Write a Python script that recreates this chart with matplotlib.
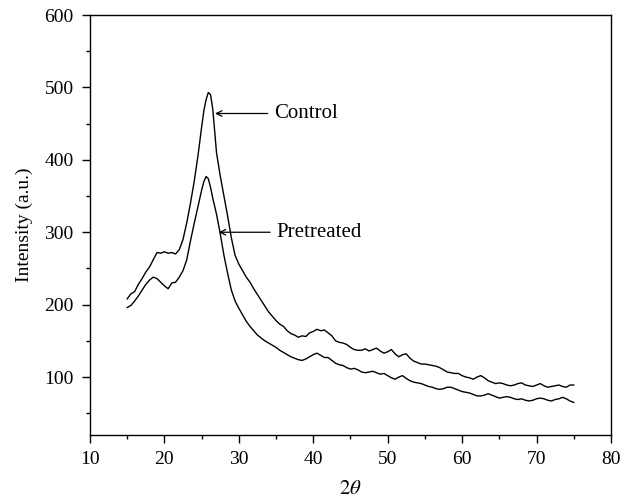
import matplotlib
matplotlib.use('Agg')
import matplotlib.pyplot as plt
from matplotlib.ticker import MultipleLocator

plt.rcParams['font.family'] = ['Liberation Serif', 'DejaVu Serif']
plt.rcParams['mathtext.fontset'] = 'stix'

# Control pattern (2theta, intensity)
control_x = [15.0, 15.5, 16.0, 16.5, 17.0, 17.5, 18.0, 18.5, 19.0, 19.5,
             20.0, 20.5, 21.0, 21.5, 22.0, 22.5, 23.0, 23.5, 24.0, 24.5,
             25.0, 25.3, 25.6, 25.9, 26.2, 26.5, 27.0, 27.5, 28.0, 28.5,
             29.0, 29.5, 30.0, 30.5, 31.0, 31.5, 32.0, 32.5, 33.0, 33.5,
             34.0, 34.5, 35.0, 35.5, 36.0, 36.5, 37.0, 37.5, 38.0, 38.5,
             39.0, 39.5, 40.0, 40.5, 41.0, 41.5, 42.0, 42.5, 43.0, 43.5,
             44.0, 44.5, 45.0, 45.5, 46.0, 46.5, 47.0, 47.5, 48.0, 48.5,
             49.0, 49.5, 50.0, 50.5, 51.0, 51.5, 52.0, 52.5, 53.0, 53.5,
             54.0, 54.5, 55.0, 55.5, 56.0, 56.5, 57.0, 57.5, 58.0, 58.5,
             59.0, 59.5, 60.0, 60.5, 61.0, 61.5, 62.0, 62.5, 63.0, 63.5,
             64.0, 64.5, 65.0, 65.5, 66.0, 66.5, 67.0, 67.5, 68.0, 68.5,
             69.0, 69.5, 70.0, 70.5, 71.0, 71.5, 72.0, 72.5, 73.0, 73.5,
             74.0, 74.5, 75.0]
control_y = [208, 215, 218, 228, 236, 245, 252, 262, 272, 271,
             273, 271, 272, 270, 276, 290, 313, 340, 370, 405,
             445, 468, 483, 493, 490, 470, 410, 378, 350, 322,
             292, 268, 256, 247, 238, 231, 222, 214, 206, 198,
             190, 184, 178, 173, 170, 164, 160, 158, 155, 157,
             156, 161, 163, 166, 164, 165, 161, 157, 150, 148,
             147, 145, 141, 138, 137, 137, 139, 136, 138, 140,
             136, 133, 135, 138, 132, 128, 131, 132, 126, 122,
             120, 118, 118, 117, 116, 115, 113, 110, 107, 106,
             105, 105, 102, 100, 99, 97, 100, 102, 99, 95,
             93, 91, 92, 91, 89, 88, 89, 91, 92, 89,
             88, 87, 89, 91, 88, 86, 87, 88, 89, 87,
             86, 89, 89]

# Pretreated pattern (same 2theta grid)
pretreated_x = control_x
pretreated_y = [196, 199, 205, 212, 220, 228, 234, 238, 236, 231,
                226, 222, 230, 231, 238, 247, 262, 288, 312, 335,
                358, 370, 377, 374, 362, 347, 325, 298, 268, 243,
                220, 205, 195, 186, 177, 170, 164, 158, 154, 150,
                147, 144, 141, 137, 134, 131, 128, 126, 124, 123,
                125, 128, 131, 133, 130, 127, 127, 123, 119, 117,
                116, 113, 111, 112, 110, 107, 106, 107, 108, 106,
                104, 105, 102, 99, 97, 100, 102, 98, 95, 93,
                92, 91, 89, 87, 86, 84, 83, 84, 86, 86,
                84, 82, 80, 79, 78, 76, 74, 74, 75, 77,
                75, 73, 71, 72, 73, 72, 70, 69, 70, 68,
                67, 68, 70, 71, 70, 68, 67, 69, 70, 72,
                70, 67, 65]

fig = plt.figure(figsize=(6.24, 5.04), dpi=100)
ax = fig.add_axes([0.1442, 0.1369, 0.8349, 0.8333])

ax.plot(control_x, control_y, color='black', lw=1.0)
ax.plot(pretreated_x, pretreated_y, color='black', lw=1.0)

arrow = dict(arrowstyle='->', color='black', lw=0.9, shrinkA=0, shrinkB=0)
ax.annotate('', xy=(26.8, 464), xytext=(33.9, 464), arrowprops=arrow)
ax.text(34.8, 464, 'Control', fontsize=15, va='center', ha='left')
ax.annotate('', xy=(27.3, 300), xytext=(34.2, 300), arrowprops=arrow)
ax.text(35.1, 300, 'Pretreated', fontsize=15, va='center', ha='left')

ax.set_xlim(10, 80)
ax.set_ylim(20, 600)
ax.xaxis.set_major_locator(MultipleLocator(10))
ax.xaxis.set_minor_locator(MultipleLocator(5))
ax.yaxis.set_major_locator(MultipleLocator(100))
ax.yaxis.set_minor_locator(MultipleLocator(50))
ax.tick_params(which='both', direction='out', top=False, right=False,
               labelsize=14, width=1.0)
ax.tick_params(which='major', length=5.8, pad=6)
ax.tick_params(which='minor', length=3)
for s in ax.spines.values():
    s.set_linewidth(1.0)

ax.set_xlabel(r'$2\theta$', fontsize=15, labelpad=8)
ax.set_ylabel('Intensity (a.u.)', fontsize=14, labelpad=8)

fig.savefig('out.png', dpi=100)
